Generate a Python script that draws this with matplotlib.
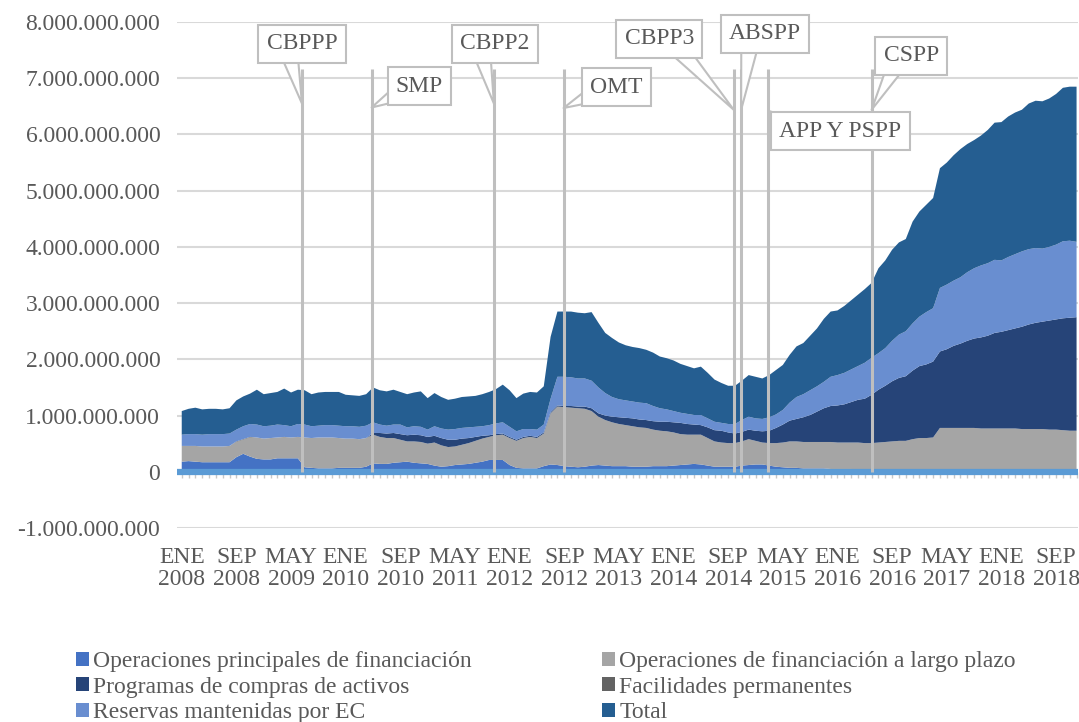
import matplotlib
matplotlib.use('Agg')
import matplotlib.pyplot as plt
from matplotlib.ticker import FuncFormatter
import numpy as np

plt.rcParams['font.family'] = 'Liberation Serif'
plt.rcParams['font.size'] = 17
gris_txt = '#595959'

# datos mensuales ENE 2008 - DIC 2018 (una fila por año)
# valores en miles de millones: 1 = 1.000.000.000
meses = np.arange(132)

op_principales = [
    0.18, 0.19, 0.18, 0.17, 0.17, 0.17, 0.17, 0.17, 0.26, 0.32, 0.27, 0.23,
    0.22, 0.22, 0.24, 0.24, 0.24, 0.24, 0.08, 0.07, 0.06, 0.06, 0.06, 0.07,
    0.07, 0.07, 0.07, 0.09, 0.15, 0.14, 0.14, 0.16, 0.17, 0.18, 0.16, 0.15,
    0.14, 0.11, 0.09, 0.10, 0.12, 0.13, 0.14, 0.16, 0.18, 0.21, 0.21, 0.21,
    0.12, 0.07, 0.06, 0.06, 0.06, 0.10, 0.13, 0.12, 0.10, 0.09, 0.08, 0.09,
    0.11, 0.12, 0.11, 0.10, 0.10, 0.10, 0.09, 0.09, 0.09, 0.10, 0.10, 0.10,
    0.11, 0.12, 0.13, 0.14, 0.13, 0.11, 0.09, 0.09, 0.09, 0.09, 0.11, 0.12,
    0.13, 0.13, 0.11, 0.09, 0.08, 0.07, 0.07, 0.06, 0.06, 0.06, 0.06, 0.05,
    0.05, 0.05, 0.05, 0.04, 0.04, 0.04, 0.03, 0.03, 0.03, 0.03, 0.03, 0.03,
    0.03, 0.03, 0.03, 0.03, 0.03, 0.03, 0.03, 0.03, 0.02, 0.02, 0.02, 0.02,
    0.02, 0.02, 0.02, 0.02, 0.02, 0.02, 0.02, 0.02, 0.02, 0.02, 0.02, 0.02]

op_largo_plazo = [
    0.28, 0.27, 0.28, 0.28, 0.28, 0.28, 0.28, 0.29, 0.27, 0.25, 0.34, 0.38,
    0.37, 0.38, 0.37, 0.38, 0.37, 0.38, 0.53, 0.53, 0.55, 0.55, 0.55, 0.53,
    0.52, 0.52, 0.51, 0.51, 0.51, 0.48, 0.46, 0.44, 0.40, 0.36, 0.38, 0.38,
    0.36, 0.41, 0.38, 0.34, 0.33, 0.35, 0.37, 0.39, 0.41, 0.41, 0.44, 0.45,
    0.48, 0.48, 0.54, 0.56, 0.54, 0.58, 0.91, 1.04, 1.05, 1.05, 1.05, 1.03,
    0.97, 0.86, 0.81, 0.78, 0.75, 0.73, 0.72, 0.70, 0.69, 0.65, 0.63, 0.62,
    0.59, 0.55, 0.53, 0.52, 0.53, 0.49, 0.45, 0.43, 0.42, 0.42, 0.43, 0.46,
    0.42, 0.39, 0.40, 0.42, 0.44, 0.47, 0.47, 0.47, 0.47, 0.47, 0.47, 0.48,
    0.47, 0.47, 0.47, 0.48, 0.47, 0.47, 0.49, 0.50, 0.51, 0.52, 0.52, 0.55,
    0.57, 0.57, 0.58, 0.75, 0.75, 0.75, 0.75, 0.75, 0.76, 0.75, 0.75, 0.75,
    0.75, 0.75, 0.75, 0.74, 0.74, 0.74, 0.74, 0.73, 0.73, 0.72, 0.71, 0.71]

programas_compras = [
    0.00, 0.00, 0.00, 0.00, 0.00, 0.00, 0.00, 0.00, 0.00, 0.00, 0.00, 0.00,
    0.00, 0.00, 0.00, 0.00, 0.00, 0.00, 0.00, 0.00, 0.00, 0.00, 0.00, 0.00,
    0.00, 0.00, 0.00, 0.00, 0.03, 0.07, 0.08, 0.09, 0.10, 0.11, 0.12, 0.12,
    0.12, 0.12, 0.13, 0.13, 0.12, 0.11, 0.09, 0.07, 0.05, 0.03, 0.02, 0.02,
    0.02, 0.02, 0.02, 0.02, 0.02, 0.02, 0.02, 0.02, 0.02, 0.03, 0.03, 0.04,
    0.05, 0.06, 0.08, 0.10, 0.12, 0.13, 0.14, 0.14, 0.14, 0.15, 0.16, 0.17,
    0.18, 0.20, 0.19, 0.18, 0.17, 0.19, 0.20, 0.21, 0.19, 0.17, 0.17, 0.17,
    0.18, 0.20, 0.22, 0.27, 0.32, 0.37, 0.40, 0.44, 0.48, 0.54, 0.60, 0.64,
    0.66, 0.68, 0.72, 0.76, 0.79, 0.86, 0.94, 1.00, 1.07, 1.12, 1.15, 1.22,
    1.28, 1.31, 1.35, 1.36, 1.40, 1.46, 1.50, 1.55, 1.59, 1.62, 1.65, 1.70,
    1.72, 1.75, 1.78, 1.82, 1.86, 1.89, 1.91, 1.94, 1.96, 1.99, 2.01, 2.02]

facilidades = [
    0.00, 0.00, 0.00, 0.00, 0.00, 0.00, 0.00, 0.00, 0.01, 0.01, 0.01, 0.00,
    0.00, 0.00, 0.00, 0.00, 0.00, 0.00, 0.00, 0.00, 0.00, 0.00, 0.00, 0.00,
    0.00, 0.00, 0.00, 0.00, 0.00, 0.00, 0.00, 0.00, 0.00, 0.00, 0.00, 0.00,
    0.00, 0.00, 0.00, 0.00, 0.00, 0.00, 0.00, 0.00, 0.00, 0.00, 0.00, 0.00,
    0.00, 0.00, 0.00, 0.00, 0.00, 0.00, 0.00, 0.00, 0.00, 0.00, 0.00, 0.00,
    0.00, 0.00, 0.00, 0.00, 0.00, 0.00, 0.00, 0.00, 0.00, 0.00, 0.00, 0.00,
    0.00, 0.00, 0.00, 0.00, 0.00, 0.00, 0.00, 0.00, 0.00, 0.00, 0.00, 0.00,
    0.00, 0.00, 0.00, 0.00, 0.00, 0.00, 0.00, 0.00, 0.00, 0.00, 0.00, 0.00,
    0.00, 0.00, 0.00, 0.00, 0.00, 0.00, 0.00, 0.00, 0.00, 0.00, 0.00, 0.00,
    0.00, 0.00, 0.00, 0.00, 0.00, 0.00, 0.00, 0.00, 0.00, 0.00, 0.00, 0.00,
    0.00, 0.00, 0.00, 0.00, 0.00, 0.00, 0.00, 0.00, 0.00, 0.00, 0.00, 0.00]

reservas_ec = [
    0.20, 0.21, 0.21, 0.21, 0.22, 0.22, 0.22, 0.22, 0.21, 0.23, 0.23, 0.23,
    0.22, 0.22, 0.23, 0.21, 0.20, 0.23, 0.23, 0.21, 0.21, 0.22, 0.22, 0.22,
    0.22, 0.22, 0.22, 0.22, 0.19, 0.15, 0.14, 0.15, 0.17, 0.14, 0.15, 0.15,
    0.13, 0.17, 0.17, 0.18, 0.19, 0.19, 0.19, 0.18, 0.17, 0.18, 0.19, 0.20,
    0.18, 0.15, 0.14, 0.12, 0.13, 0.14, 0.24, 0.51, 0.52, 0.51, 0.50, 0.50,
    0.49, 0.46, 0.40, 0.35, 0.32, 0.31, 0.30, 0.30, 0.30, 0.27, 0.24, 0.22,
    0.20, 0.18, 0.18, 0.17, 0.18, 0.16, 0.15, 0.14, 0.15, 0.17, 0.21, 0.23,
    0.22, 0.22, 0.24, 0.24, 0.26, 0.32, 0.39, 0.41, 0.44, 0.45, 0.47, 0.52,
    0.54, 0.56, 0.58, 0.60, 0.64, 0.66, 0.65, 0.67, 0.72, 0.77, 0.80, 0.84,
    0.88, 0.93, 0.95, 1.13, 1.15, 1.16, 1.18, 1.22, 1.25, 1.28, 1.29, 1.30,
    1.27, 1.30, 1.32, 1.34, 1.34, 1.33, 1.30, 1.31, 1.33, 1.37, 1.37, 1.34]

total = [
    0.42, 0.45, 0.47, 0.45, 0.45, 0.45, 0.44, 0.45, 0.52, 0.53, 0.54, 0.62,
    0.57, 0.58, 0.58, 0.65, 0.60, 0.61, 0.61, 0.57, 0.59, 0.59, 0.59, 0.60,
    0.56, 0.55, 0.55, 0.56, 0.62, 0.61, 0.61, 0.62, 0.58, 0.59, 0.60, 0.63,
    0.56, 0.59, 0.56, 0.53, 0.54, 0.55, 0.55, 0.55, 0.57, 0.59, 0.61, 0.67,
    0.65, 0.59, 0.63, 0.66, 0.66, 0.68, 1.10, 1.16, 1.16, 1.17, 1.17, 1.16,
    1.22, 1.15, 1.07, 1.05, 1.01, 0.98, 0.97, 0.97, 0.95, 0.95, 0.92, 0.91,
    0.90, 0.87, 0.85, 0.83, 0.86, 0.81, 0.75, 0.71, 0.68, 0.68, 0.70, 0.74,
    0.74, 0.72, 0.75, 0.79, 0.80, 0.85, 0.90, 0.91, 0.97, 1.03, 1.12, 1.16,
    1.15, 1.19, 1.23, 1.27, 1.31, 1.33, 1.51, 1.56, 1.62, 1.64, 1.64, 1.81,
    1.87, 1.91, 1.96, 2.13, 2.17, 2.23, 2.28, 2.28, 2.28, 2.31, 2.37, 2.44,
    2.46, 2.50, 2.52, 2.52, 2.59, 2.62, 2.62, 2.64, 2.68, 2.73, 2.74, 2.76]

series = ['Operaciones principales de financiación',
          'Operaciones de financiación a largo plazo',
          'Programas de compras de activos',
          'Facilidades permanentes',
          'Reservas mantenidas por EC',
          'Total']
colores = ['#4472C4', '#A5A5A5', '#264478', '#636363', '#698ED0', '#255E91']

etiquetas_x = ['ENE\n2008', 'SEP\n2008', 'MAY\n2009', 'ENE\n2010', 'SEP\n2010',
               'MAY\n2011', 'ENE\n2012', 'SEP\n2012', 'MAY\n2013', 'ENE\n2014',
               'SEP\n2014', 'MAY\n2015', 'ENE\n2016', 'SEP\n2016', 'MAY\n2017',
               'ENE\n2018', 'SEP\n2018']

# programas del BCE (mes del anuncio, contado desde ENE 2008)
eventos = ['CBPPP', 'SMP', 'CBPP2', 'OMT', 'CBPP3', 'ABSPP', 'APP Y PSPP', 'CSPP']
mes_evento = [17.6, 27.8, 45.7, 55.9, 80.8, 81.9, 85.9, 101.0]

# cuadros de texto: centro (mes, valor), punta de la flecha y salida en el cuadro
pos_cuadro = [(17.6, 7.61), (34.8, 6.86), (45.8, 7.61), (63.6, 6.84),
              (69.9, 7.70), (85.4, 7.79), (96.4, 6.06), (106.8, 7.40)]
alto_flecha = [6.55, 6.48, 6.55, 6.47, 6.44, 6.44, 6.42, 6.44]
salida = [(0.3, 0.3), (0.18, 0.3), (0.3, 0.3), (0.18, 0.3),
          (0.7, 0.3), (0.3, 0.3), (0.08, 0.7), (0.28, 0.3)]

fig = plt.figure(figsize=(10.79, 7.22), dpi=100)
ax = fig.add_axes([0.164, 0.2687, 0.835, 0.7008])

capas = ax.stackplot(meses, op_principales, op_largo_plazo, programas_compras,
                     facilidades, reservas_ec, total, colors=colores,
                     labels=series, linewidth=0, zorder=2)

ax.set_xlim(-0.7, 131.2)
ax.set_ylim(-1, 8)
ax.set_yticks(range(-1, 9))
ax.yaxis.set_major_formatter(FuncFormatter(
    lambda v, p: '0' if v == 0 else f'{v * 1e9:,.0f}'.replace(',', '.')))
ax.set_xticks(range(0, 132, 8))
ax.set_xticklabels(etiquetas_x, linespacing=1.05)
ax.tick_params(axis='y', length=0, pad=12, labelcolor=gris_txt)
ax.tick_params(axis='x', length=0, pad=14, labelcolor=gris_txt)
ax.grid(axis='y', color='#D9D9D9', lw=1.5)
ax.set_axisbelow(True)
for s in ax.spines.values():
    s.set_visible(False)

# eje horizontal en el cero
ax.axhline(0, color='#5B9BD5', lw=4.5, zorder=3)
eje0 = ax.secondary_xaxis(1 / 9)
eje0.set_xticks(meses)
eje0.tick_params(length=4, width=1, color='#C8C8C8', labelbottom=False, pad=6)
eje0.spines['bottom'].set_visible(False)

ax.vlines(mes_evento, 0, 7.17, color='#BFBFBF', lw=2.2, zorder=4)

for nombre, m, caja, yf, rp in zip(eventos, mes_evento, pos_cuadro,
                                   alto_flecha, salida):
    ax.annotate(nombre, xy=(m, yf), xytext=caja, ha='center', va='center',
                color=gris_txt, zorder=5,
                bbox=dict(boxstyle='square,pad=0.35', fc='white', ec='#BFBFBF', lw=1.5),
                arrowprops=dict(arrowstyle='wedge,tail_width=0.8,shrink_factor=0.5',
                                fc='white', ec='#BFBFBF', lw=1.5, relpos=rp,
                                patchA=None, shrinkA=0, shrinkB=0))

orden = [0, 2, 4, 1, 3, 5]
fig.legend([capas[i] for i in orden], [series[i] for i in orden],
           loc='upper left', bbox_to_anchor=(0.07, 1 - 651 / 722), ncol=2,
           frameon=False, handlelength=0.55, handleheight=0.55,
           handletextpad=0.2, labelspacing=0.2, columnspacing=5.5,
           borderaxespad=0, borderpad=0, labelcolor=gris_txt)

fig.savefig('out.png', dpi=100)
